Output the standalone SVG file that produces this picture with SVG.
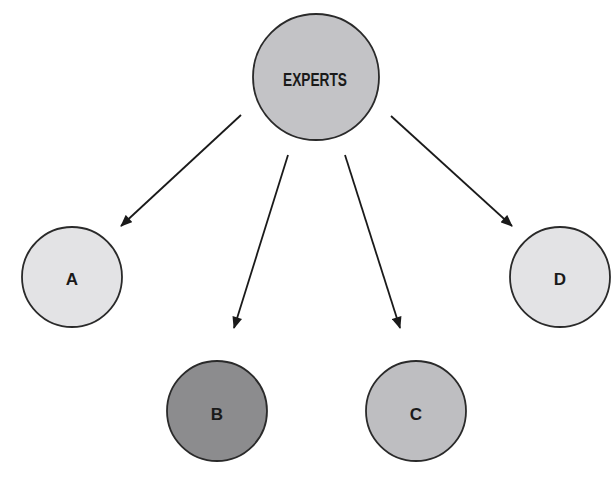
<svg xmlns="http://www.w3.org/2000/svg" width="611" height="480" viewBox="0 0 611 480">
<defs>
<style>
.node circle{stroke:#2a2a2a;stroke-width:1.8}
.lbl{font-family:"Liberation Sans Narrow","Liberation Sans",Arial,sans-serif;font-weight:bold;fill:#1a1a1a;text-anchor:middle}
.edge{stroke:#1a1a1a;stroke-width:1.8;fill:none;marker-end:url(#ah)}
</style>
<marker id="ah" viewBox="0 0 12 10" refX="11" refY="5" markerWidth="13" markerHeight="10" markerUnits="userSpaceOnUse" orient="auto">
<path d="M0,0 L12,5 L0,10 Z" fill="#1a1a1a"/>
</marker>
</defs>
<rect width="611" height="480" fill="#ffffff"/>
<g id="connectors">
<line class="edge" x1="241" y1="115" x2="121" y2="226"/>
<line class="edge" x1="288" y1="155" x2="234" y2="328"/>
<line class="edge" x1="345" y1="155" x2="400" y2="328"/>
<line class="edge" x1="391" y1="116" x2="512" y2="226"/>
</g>
<g id="experts" class="node">
<circle cx="316" cy="77" r="63" fill="#c3c3c6"/>
<text class="lbl" x="315" y="86" font-size="18" textLength="64" lengthAdjust="spacingAndGlyphs" fill="#2a2a2a">EXPERTS</text>
</g>
<g id="a" class="node">
<circle cx="72" cy="277" r="50" fill="#e3e3e5"/>
<text class="lbl" x="72" y="285" font-size="17">A</text>
</g>
<g id="b" class="node">
<circle cx="217" cy="411" r="50" fill="#8c8c8e"/>
<text class="lbl" x="217" y="420" font-size="17">B</text>
</g>
<g id="c" class="node">
<circle cx="416" cy="411" r="50" fill="#bebec1"/>
<text class="lbl" x="416" y="420" font-size="17">C</text>
</g>
<g id="d" class="node">
<circle cx="560" cy="277" r="50" fill="#e3e3e5"/>
<text class="lbl" x="560" y="285" font-size="17">D</text>
</g>
</svg>
